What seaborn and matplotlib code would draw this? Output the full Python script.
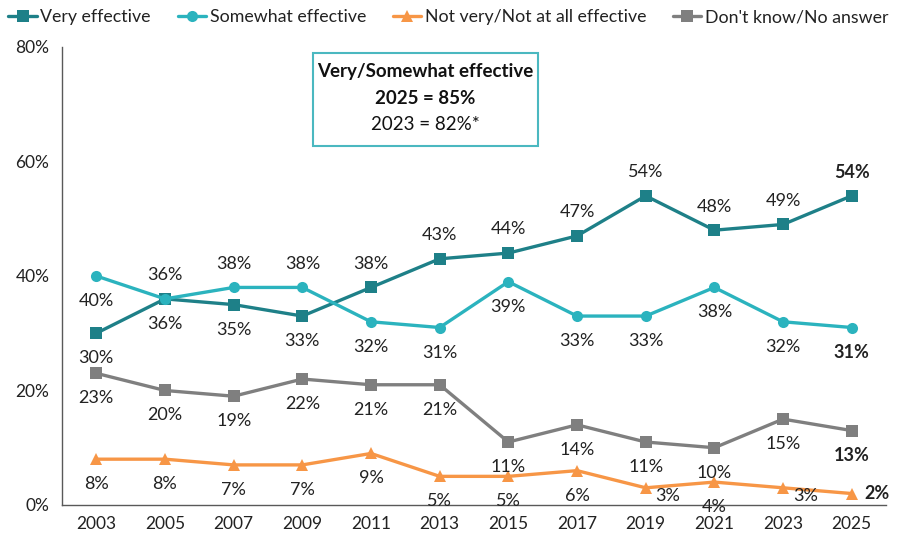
import matplotlib
matplotlib.use("Agg")
import matplotlib.pyplot as plt
import seaborn as sns
import pandas as pd
import numpy as np
from matplotlib.patches import Rectangle
from matplotlib.lines import Line2D

years = ["2003", "2005", "2007", "2009", "2011", "2013", "2015", "2017", "2019", "2021", "2023", "2025"]
very = [30, 36, 35, 33, 38, 43, 44, 47, 54, 48, 49, 54]
somewhat = [40, 36, 38, 38, 32, 31, 39, 33, 33, 38, 32, 31]
notvery = [8, 8, 7, 7, 9, 5, 5, 6, 3, 4, 3, 2]
dontknow = [23, 20, 19, 22, 21, 21, 11, 14, 11, 10, 15, 13]
series_names = ["Very effective", "Somewhat effective", "Not very/Not at all effective", "Don't know/No answer"]
yticks = [0, 20, 40, 60, 80]
box_lines = ["Very/Somewhat effective", "2025 = 85%", "2023 = 82%*"]

colors = {"Very effective": "#1E8088", "Somewhat effective": "#2BB3BE",
          "Not very/Not at all effective": "#F79646", "Don't know/No answer": "#7F7F7F"}
markers = {"Very effective": "s", "Somewhat effective": "o",
           "Not very/Not at all effective": "^", "Don't know/No answer": "s"}

sns.set_theme(style="white")
plt.rcParams['font.family'] = ['Lato', 'DejaVu Sans']

rows = []
for name, vals in zip(series_names, [very, somewhat, notvery, dontknow]):
    for i, (yr, v) in enumerate(zip(years, vals)):
        rows.append({"pos": i, "year": yr, "value": v, "series": name})
df = pd.DataFrame(rows)

fig = plt.figure(figsize=(9.02, 5.42), dpi=100)
ax = fig.add_axes([0.0687, 0.0683, 0.9136, 0.845])

sns.lineplot(data=df, x="pos", y="value", hue="series", style="series",
             hue_order=series_names, style_order=series_names,
             palette=colors, markers=markers, dashes=False, linewidth=2.4,
             markersize=8, markeredgewidth=0, ax=ax, legend=False)

ax.set_xlim(-0.5, len(years) - 0.5)
ax.set_ylim(0, 80)
ax.set_yticks(yticks)
ax.set_yticklabels([f"{t}%" for t in yticks], fontsize=12.5, color="#222222")
ax.set_xticks(range(len(years)))
ax.set_xticklabels(years, fontsize=12.5, color="#222222")
ax.set_xticks(np.arange(-0.5, len(years)), minor=True)
ax.tick_params(axis="x", which="major", length=0, pad=8)
ax.tick_params(axis="x", which="minor", length=6, width=1, color="#595959", direction="out")
ax.tick_params(axis="y", which="major", length=5, width=1, color="#595959", direction="out", pad=4)
ax.set_xlabel("")
ax.set_ylabel("")
for s in ["top", "right"]:
    ax.spines[s].set_visible(False)
for s in ["left", "bottom"]:
    ax.spines[s].set_color("#595959")
    ax.spines[s].set_linewidth(1)

# label placement: 'a' above, 'b' below, 'br' below-right, 'r' right
pl_very = ["b", "b", "b", "b", "a", "a", "a", "a", "a", "a", "a", "a"]
pl_some = ["b", "a", "a", "a", "b", "b", "b", "b", "b", "b", "b", "b"]
pl_not = ["b", "b", "b", "b", "b", "b", "b", "b", "br", "b", "br", "r"]
pl_dk = ["b"] * 12

offs = {"a": (0, 17), "b": (0, -18), "br": (16, -6), "r": (18, 0)}
for vals, pls in zip([very, somewhat, notvery, dontknow], [pl_very, pl_some, pl_not, pl_dk]):
    for i, (v, p) in enumerate(zip(vals, pls)):
        dx, dy = offs[p]
        ax.annotate(f"{v}%", (i, v), xytext=(dx, dy), textcoords="offset points",
                    ha="center", va="center", fontsize=13, color="#222222",
                    fontweight="bold" if i == len(years) - 1 else "normal")

# text box
box = Rectangle((313 / 902, 1 - 146 / 542), (538 - 313) / 902, (146 - 53) / 542,
                transform=fig.transFigure, fill=False, edgecolor="#4BB8C0", linewidth=1.5)
fig.add_artist(box)
cx = 425.5 / 902
fig.text(cx, 1 - 72 / 542, box_lines[0], ha="center", va="center", fontsize=13.5, fontweight="bold", color="#111111")
fig.text(cx, 1 - 98 / 542, box_lines[1], ha="center", va="center", fontsize=13.5, fontweight="bold", color="#111111")
fig.text(cx, 1 - 125 / 542, box_lines[2], ha="center", va="center", fontsize=13.5, color="#111111")

# legend
handles = [Line2D([0], [0], color=colors[n], marker=markers[n], lw=2.4, markersize=8, markeredgewidth=0)
           for n in series_names]
fig.legend(handles, series_names, loc="upper center", bbox_to_anchor=(0.497, 1.012), ncol=4,
           frameon=False, fontsize=12.8, handlelength=1.6, handletextpad=0.2, columnspacing=1.5,
           labelcolor="#222222")

fig.savefig("out.png", dpi=100)
